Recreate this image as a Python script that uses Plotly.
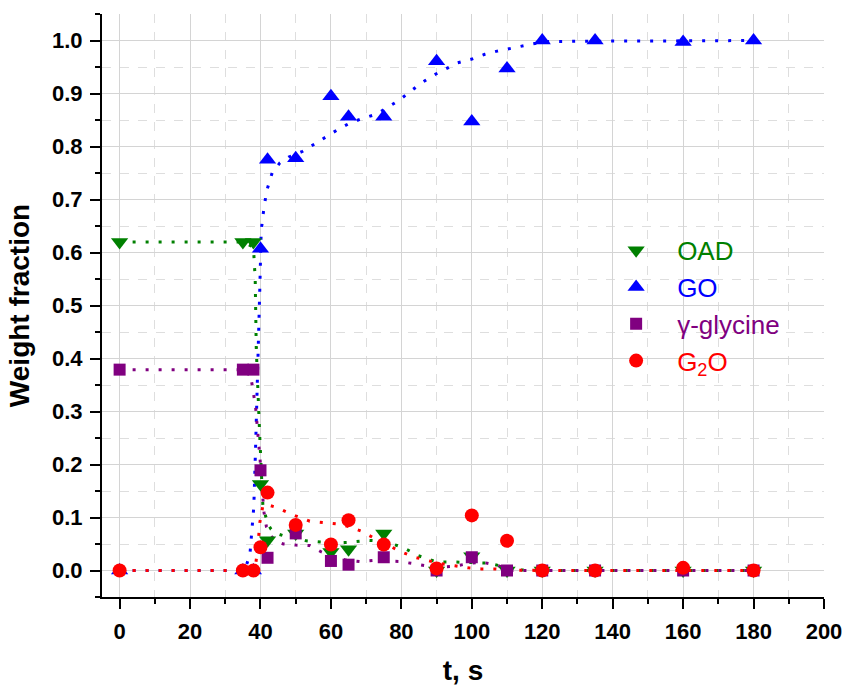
import plotly.graph_objects as go

# ---- measured data ----
t_pts = [0, 35, 38, 40, 42, 50, 60, 65, 75, 90, 100, 110, 120, 135, 160, 180]
oad = [0.62, 0.62, 0.62, 0.163, 0.057, 0.07, 0.035, 0.04, 0.07, 0.0, 0.027, 0.0, 0.0, 0.0, 0.0, 0.0]
go_w = [0.0, 0.0, 0.0, 0.607, 0.775, 0.778, 0.895, 0.856, 0.856, 0.961, 0.847, 0.947, 1.0, 1.0, 0.997, 1.0]
gly = [0.379, 0.379, 0.379, 0.189, 0.024, 0.07, 0.018, 0.011, 0.025, 0.0, 0.025, 0.0, 0.0, 0.0, 0.0, 0.0]
g2o = [0.0, 0.0, 0.0, 0.044, 0.147, 0.086, 0.049, 0.095, 0.049, 0.004, 0.104, 0.056, 0.0, 0.0, 0.005, 0.0]

# ---- fitted (dotted) curves ----
go_fit_t = [0, 10, 20, 30, 35, 36, 37, 37.7, 38.1, 38.6, 39, 39.4, 39.8, 40.2, 40.7, 41.7, 43.3, 45.5, 48,
            52, 55.4, 58.7, 62, 65.3, 69, 73, 76, 79.5, 82.6, 85.7, 89, 92.5, 96, 100, 103.7, 107.2, 111,
            114.8, 118.4, 122, 130, 140, 150, 160, 170, 180]
go_fit = [0, 0, 0, 0, 0.002, 0.01, 0.03, 0.08, 0.12, 0.23, 0.32, 0.41, 0.53, 0.64, 0.67, 0.715, 0.75, 0.769,
          0.78, 0.791, 0.805, 0.819, 0.832, 0.844, 0.853, 0.861, 0.873, 0.888, 0.904, 0.92, 0.934, 0.946,
          0.958, 0.965, 0.974, 0.98, 0.985, 0.989, 0.995, 0.998, 0.999, 0.999, 0.999, 0.999, 1.0, 1.0]

oad_fit_t = [0, 10, 20, 30, 35, 38, 38.5, 38.8, 39.1, 39.4, 39.8, 40.2, 40.7, 41.4, 42.1, 43, 44.5, 46.3,
             50, 53, 56, 60, 65, 70.5, 75, 80.3, 84.8, 90, 94.7, 100, 104.6, 110, 114, 120, 135, 150, 165, 180]
oad_fit = [0.62, 0.62, 0.62, 0.62, 0.62, 0.61, 0.55, 0.42, 0.353, 0.318, 0.252, 0.19, 0.12, 0.104, 0.088,
           0.078, 0.07, 0.066, 0.062, 0.056, 0.054, 0.052, 0.053, 0.057, 0.055, 0.044, 0.028, 0.016, 0.016,
           0.015, 0.014, 0.006, 0.001, 0, 0, 0, 0, 0]

gly_fit_t = [0, 10, 20, 30, 35, 37, 37.4, 38.1, 38.6, 39.1, 39.6, 40, 40.5, 41, 41.7, 43, 44.5, 46.5, 50,
             54, 57.3, 60, 64, 68.2, 72.2, 76, 79.5, 83.3, 87.6, 91, 95, 99, 102.7, 107, 111.7, 120, 135,
             150, 165, 180]
gly_fit = [0.379, 0.379, 0.379, 0.379, 0.379, 0.379, 0.36, 0.334, 0.309, 0.27, 0.233, 0.2, 0.15, 0.11,
           0.082, 0.065, 0.055, 0.05, 0.048, 0.047, 0.035, 0.028, 0.02, 0.017, 0.019, 0.018, 0.017, 0.013,
           0.008, 0.006, 0.008, 0.013, 0.016, 0.01, 0, 0, 0, 0, 0, 0]

g2o_fit_t = [0, 10, 20, 30, 35, 38, 38.6, 39.2, 39.8, 40.7, 42, 43.3, 45, 46.9, 50, 54, 57.8, 61.6, 65,
             68.7, 72, 76, 80, 83.8, 87.1, 91, 95.2, 99, 102.7, 106.5, 110, 115, 120, 135, 150, 165, 180]
g2o_fit = [0, 0, 0, 0, 0, 0, 0.01, 0.04, 0.09, 0.123, 0.124, 0.122, 0.118, 0.112, 0.103, 0.093, 0.09,
           0.088, 0.083, 0.074, 0.062, 0.048, 0.035, 0.025, 0.019, 0.013, 0.009, 0.005, 0.003, 0.003,
           0.001, 0, 0, 0, 0, 0, 0]

C_OAD, C_GO, C_GLY, C_G2O = "#008000", "#0000FF", "#800080", "#FF0000"
FONT = "Liberation Sans, Arial, sans-serif"
DOT = "3px,10px"

fig = go.Figure()

# dotted fit curves (drawn beneath markers)
for tx, ty, c in [(oad_fit_t, oad_fit, C_OAD), (go_fit_t, go_fit, C_GO),
                  (gly_fit_t, gly_fit, C_GLY), (g2o_fit_t, g2o_fit, C_G2O)]:
    fig.add_trace(go.Scatter(x=tx, y=ty, mode="lines", showlegend=False, hoverinfo="skip",
                             line=dict(color=c, width=3, dash=DOT)))

series = [
    ("OAD", oad, C_OAD, "triangle-down", 15),
    ("GO", go_w, C_GO, "triangle-up", 15),
    ("γ-glycine", gly, C_GLY, "square", 12),
    ("G<sub>2</sub>O", g2o, C_G2O, "circle", 14),
]
for i, (name, vals, c, sym, sz) in enumerate(series):
    fig.add_trace(go.Scatter(
        x=t_pts, y=vals, mode="markers",
        name=f'<span style="color:{c}">{name}</span>',
        marker=dict(color=c, symbol=sym, size=sz, line=dict(width=0)),
    ))

axis_common = dict(
    showline=True, linecolor="black", linewidth=2,
    ticks="outside", ticklen=10, tickwidth=2, tickcolor="black",
    showgrid=True, gridcolor="#d4d4d4", gridwidth=1,
    zeroline=False, mirror=False, automargin=False,
    tickfont=dict(family=FONT, size=22, color="black", weight="bold"),
)

fig.update_xaxes(
    range=[-5, 200], tick0=0, dtick=20, ticklabelstandoff=4, **axis_common,
    minor=dict(dtick=10, tick0=0, ticks="outside", ticklen=5, tickwidth=2, tickcolor="black",
               showgrid=True, gridcolor="#dedede", griddash="dash", gridwidth=1),
    title=dict(text="t, s", font=dict(family=FONT, size=28, color="black", weight="bold"), standoff=26),
)
fig.update_yaxes(
    range=[-0.05, 1.05], tick0=0, dtick=0.1, tickformat=".1f", ticklabelstandoff=3, **axis_common,
    minor=dict(dtick=0.05, tick0=0, ticks="outside", ticklen=5, tickwidth=2, tickcolor="black",
               showgrid=True, gridcolor="#dedede", griddash="dash", gridwidth=1),
    title=dict(text="Weight fraction", font=dict(family=FONT, size=28, color="black", weight="bold"),
               standoff=14),
)

fig.update_layout(
    width=846, height=686,
    margin=dict(l=102, r=22, t=14, b=89),
    plot_bgcolor="white", paper_bgcolor="white",
    legend=dict(x=0.683, y=0.635, xanchor="left", yanchor="top", bgcolor="rgba(0,0,0,0)",
                font=dict(family=FONT, size=26), itemwidth=72, tracegroupgap=0),
)

fig.write_html("out.html")
